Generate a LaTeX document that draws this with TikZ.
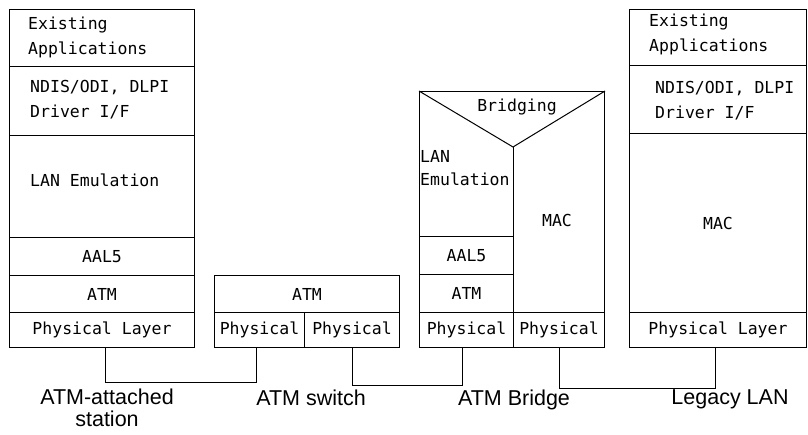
\documentclass[tikz,border=0pt]{standalone}
\usepackage{fontspec}
\setmainfont{Liberation Sans}
\newfontfamily\stackfont{DejaVu Sans Mono}
\usetikzlibrary{positioning,calc}

\begin{document}
\begin{tikzpicture}[
  x=1pt, y=-1pt,
  layer/.style={draw, line width=1pt, anchor=north west, inner sep=0pt,
    font=\stackfont\fontsize{16.5}{24}\selectfont},
  stacktext/.style={anchor=west, inner sep=0pt, align=left,
    font=\stackfont\fontsize{16.5}{25}\selectfont},
  caption/.style={anchor=north, inner sep=0pt, align=center,
    font=\fontsize{21.5}{22}\selectfont},
  wire/.style={line width=1pt},
]
  \useasboundingbox (0,0) rectangle (808,435);

  % ATM-attached station
  \node[layer, minimum width=185, minimum height=57] (s-app) at (9,9) {};
  \node[layer, minimum width=185, minimum height=69] (s-ndis) at (9,66) {};
  \node[layer, minimum width=185, minimum height=102] (s-lane) at (9,135) {};
  \node[layer, minimum width=185, minimum height=38] (s-aal) at (9,237) {AAL5};
  \node[layer, minimum width=185, minimum height=37] (s-atm) at (9,275) {ATM};
  \node[layer, minimum width=185, minimum height=35] (s-phy) at (9,312) {Physical Layer};
  \node[stacktext] at ([xshift=19,yshift=1]s-app.west) {Existing\\Applications};
  \node[stacktext] at ([xshift=21,yshift=1.5]s-ndis.west) {NDIS/ODI, DLPI\\Driver I/F};
  \node[stacktext] at ([xshift=21,yshift=6]s-lane.west) {LAN Emulation};

  % ATM switch
  \node[layer, minimum width=185, minimum height=37] (w-atm) at (214,275) {ATM};
  \node[layer, minimum width=90, minimum height=35] (w-phyl) at (214,312) {Physical};
  \node[layer, minimum width=95, minimum height=35] (w-phyr) at (304,312) {Physical};

  % ATM bridge
  \node[layer, minimum width=185, minimum height=256] (b-frame) at (419,91) {};
  \node[layer, minimum width=94, minimum height=38] (b-aal) at (419,236) {AAL5};
  \node[layer, minimum width=94, minimum height=38] (b-atm) at (419,274) {ATM};
  \node[layer, minimum width=94, minimum height=35] (b-phyl) at (419,312) {Physical};
  \node[layer, minimum width=91, minimum height=35] (b-phyr) at (513,312) {Physical};
  \coordinate (b-apex) at (513,147);
  \draw[wire] (b-frame.north west) -- (b-apex) -- (b-frame.north east);
  \draw[wire] (b-apex) -- (b-phyr.north west);
  \node[stacktext, anchor=center] at (517,107) {Bridging};
  \node[stacktext, font=\stackfont\fontsize{16.5}{23}\selectfont] at (420,168) {LAN\\Emulation};
  \node[stacktext, anchor=center] at (557,220) {MAC};

  % Legacy LAN station
  \node[layer, minimum width=177, minimum height=56] (l-app) at (629,9) {};
  \node[layer, minimum width=177, minimum height=68] (l-ndis) at (629,65) {};
  \node[layer, minimum width=177, minimum height=179] (l-mac) at (629,133) {MAC};
  \node[layer, minimum width=177, minimum height=35] (l-phy) at (629,312) {Physical Layer};
  \node[stacktext] at ([xshift=20,yshift=3]l-app.west) {Existing\\Applications};
  \node[stacktext] at ([xshift=26,yshift=-1]l-ndis.west) {NDIS/ODI, DLPI\\Driver I/F};

  % physical links
  \draw[wire] ([xshift=3]s-phy.south) -- ++(0,34) -| ([xshift=-3]w-phyl.south);
  \draw[wire] (w-phyr.south) -- ++(0,37) -| ([xshift=-4]b-phyl.south);
  \draw[wire] (b-phyr.south) -- ++(0,40) -| ([xshift=-3]l-phy.south);

  % captions
  \node[caption] at (107,389) {ATM-attached\\station};
  \node[caption] at (311,390) {ATM switch};
  \node[caption] at (514,390) {ATM Bridge};
  \node[caption] at (730,390) {Legacy LAN};
\end{tikzpicture}
\end{document}
